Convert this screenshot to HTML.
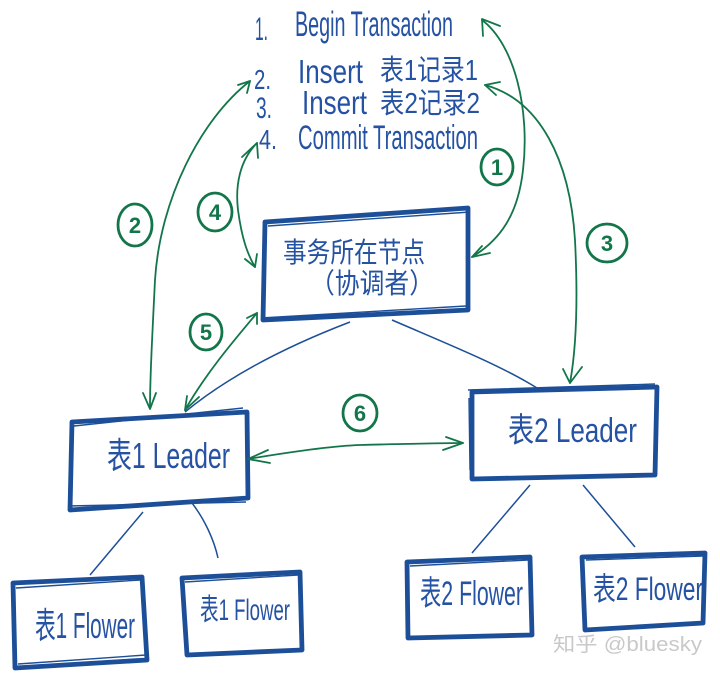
<!DOCTYPE html>
<html><head><meta charset="utf-8"><style>
html,body{margin:0;padding:0;background:#fff;}
svg{display:block;}
.t{font-family:"Liberation Sans","Noto Sans CJK SC",sans-serif;fill:#2552a2;}
.n{font-family:"Liberation Sans",sans-serif;fill:#13764a;font-size:22px;text-anchor:middle;font-weight:bold;}
.g{fill:none;stroke:#13764a;stroke-width:1.8;stroke-linecap:round;stroke-linejoin:round;}
.c{fill:none;stroke:#13764a;stroke-width:2.8;}
.b{fill:none;stroke:#1d4f98;stroke-width:4.8;stroke-linejoin:round;}
.b2{fill:none;stroke:#1d4f98;stroke-width:1.4;}
.l{fill:none;stroke:#1d4f98;stroke-width:1.5;}
</style></head><body>
<svg width="720" height="676" viewBox="0 0 720 676" xmlns="http://www.w3.org/2000/svg">
<!-- top text -->
<text class="t" x="255" y="40" font-size="32" textLength="13" lengthAdjust="spacingAndGlyphs">1.</text>
<text class="t" x="295" y="36" font-size="35" textLength="158" lengthAdjust="spacingAndGlyphs">Begin Transaction</text>
<text class="t" x="254" y="89" font-size="28" textLength="17" lengthAdjust="spacingAndGlyphs">2.</text>
<text class="t" x="298" y="83" font-size="33" textLength="65" lengthAdjust="spacingAndGlyphs">Insert</text>
<text class="t" x="380" y="80" font-size="29" textLength="98" lengthAdjust="spacingAndGlyphs">表1记录1</text>
<text class="t" x="256" y="118" font-size="30" textLength="16" lengthAdjust="spacingAndGlyphs">3.</text>
<text class="t" x="302" y="114" font-size="33" textLength="65" lengthAdjust="spacingAndGlyphs">Insert</text>
<text class="t" x="380" y="113" font-size="29" textLength="100" lengthAdjust="spacingAndGlyphs">表2记录2</text>
<text class="t" x="259" y="149" font-size="28" textLength="18" lengthAdjust="spacingAndGlyphs">4.</text>
<text class="t" x="298" y="149" font-size="34" textLength="180" lengthAdjust="spacingAndGlyphs">Commit Transaction</text>

<!-- blue connecting lines -->
<path class="l" d="M350,322 C290,345 230,375 185,412"/>
<path class="l" d="M392,320 C450,345 500,365 537,388"/>
<path class="l" d="M143,512 L90,575"/>
<path class="l" d="M192,503 C205,520 214,540 218,558"/>
<path class="l" d="M530,485 L472,553"/>
<path class="l" d="M583,485 L635,547"/>

<!-- boxes -->
<polygon class="b" points="265,222 468,208 468,310 263,320"/>
<path class="b2" d="M268,226 L470,212 M261,318 L466,306"/>
<polygon class="b" points="72,422 247,412 248,498 70,510"/>
<path class="b2" d="M74,426 L243,408 M68,506 L246,502"/>
<polygon class="b" points="472,392 657,387 655,475 472,479"/>
<path class="b2" d="M468,390 L655,384 M469,398 L470,470"/>
<polygon class="b" points="13,583 142,577 147,660 15,668"/>
<path class="b2" d="M16,588 L140,580 M18,664 L146,655"/>
<polygon class="b" points="182,578 300,572 302,650 187,655"/>
<path class="b2" d="M185,582 L298,575"/>
<polygon class="b" points="407,562 530,557 532,635 408,638"/>
<path class="b2" d="M410,566 L528,560"/>
<polygon class="b" points="582,557 705,553 703,623 585,630"/>
<path class="b2" d="M586,560 L703,556"/>

<!-- box labels -->
<text class="t" x="283" y="262" font-size="28" textLength="142" lengthAdjust="spacingAndGlyphs">事务所在节点</text>
<text class="t" x="310" y="293" font-size="28" textLength="124" lengthAdjust="spacingAndGlyphs">（协调者）</text>
<text class="t" x="107" y="468" font-size="36" textLength="123" lengthAdjust="spacingAndGlyphs">表1 Leader</text>
<text class="t" x="508" y="442" font-size="34" textLength="129" lengthAdjust="spacingAndGlyphs">表2 Leader</text>
<text class="t" x="35" y="638" font-size="36" textLength="100" lengthAdjust="spacingAndGlyphs">表1 Flower</text>
<text class="t" x="200" y="620" font-size="30" textLength="90" lengthAdjust="spacingAndGlyphs">表1 Flower</text>
<text class="t" x="420" y="605" font-size="34" textLength="103" lengthAdjust="spacingAndGlyphs">表2 Flower</text>
<text class="t" x="593" y="600" font-size="32" textLength="110" lengthAdjust="spacingAndGlyphs">表2 Flower</text>

<!-- green arrows -->
<path class="g" d="M482,20 C515,45 530,110 523,170 C518,215 500,240 472,257"/>
<path class="g" d="M500,26 L482,19 L483,36 M490,253 L472,257 L482,246"/>
<path class="g" d="M485,85 C540,100 570,160 575,240 C578,300 576,350 570,383"/>
<path class="g" d="M500,82 L485,85 L496,95 M563,369 L570,383 L582,367"/>
<path class="g" d="M250,81 C200,120 160,200 155,280 C152,340 150,380 150,408"/>
<path class="g" d="M238,85 L250,81 L247,93 M143,393 L150,409 L156,393"/>
<path class="g" d="M257,143 C240,160 235,185 238,210 C242,240 248,255 255,267"/>
<path class="g" d="M242,157 L257,143 L258,158 M245,259 L255,267 L257,254"/>
<path class="g" d="M257,313 C230,345 205,375 185,410"/>
<path class="g" d="M247,318 L257,313 L257,324 M187,396 L185,410 L199,397"/>
<path class="g" d="M248,459 C290,452 330,446 360,445 C400,444 440,443 463,443"/>
<path class="g" d="M268,450 L248,459 L270,463 M446,437 L463,443 L443,450"/>

<!-- numbered circles -->
<ellipse class="c" cx="497" cy="167" rx="16" ry="18"/><text class="n" x="497" y="175">1</text>
<ellipse class="c" cx="135" cy="225" rx="17" ry="21"/><text class="n" x="135" y="233">2</text>
<ellipse class="c" cx="607" cy="243" rx="20" ry="19"/><text class="n" x="607" y="251">3</text>
<ellipse class="c" cx="215" cy="212" rx="17" ry="19"/><text class="n" x="215" y="220">4</text>
<ellipse class="c" cx="206" cy="332" rx="16" ry="18"/><text class="n" x="206" y="340">5</text>
<ellipse class="c" cx="360" cy="413" rx="17" ry="18"/><text class="n" x="360" y="421">6</text>

<!-- watermark -->
<text x="553" y="651" font-family="'Liberation Sans','Noto Sans CJK SC',sans-serif" font-size="20" fill="#c9c9c9" textLength="149" lengthAdjust="spacingAndGlyphs">知乎 @bluesky</text>
</svg>
</body></html>
